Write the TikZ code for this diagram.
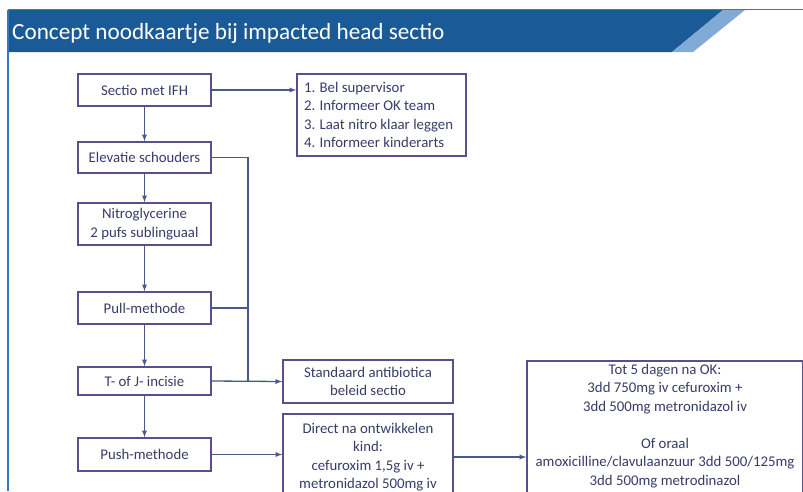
\documentclass[tikz,border=0pt]{standalone}
\usepackage{fontspec}
\setmainfont{Carlito}
\usepackage{tikz}
\usetikzlibrary{shapes,arrows}
\definecolor{BannerBlue}{RGB}{26,90,150}
\definecolor{StripeBlue}{RGB}{130,170,215}
\definecolor{EdgeBlue}{RGB}{50,120,190}
\definecolor{BoxLine}{RGB}{92,78,140}
\definecolor{ArrowLine}{RGB}{72,88,135}
\definecolor{BoxText}{RGB}{55,60,105}

\begin{document}
\begin{tikzpicture}[x=1pt,y=-1pt]
				\useasboundingbox (0,0) rectangle (803,491);
				\clip (0,0) rectangle (803,491);
				\tikzstyle{box}=[draw=BoxLine, line width=1.6pt, fill=white, text=BoxText, font=\fontsize{14.8}{18.5}\selectfont, align=flush center, inner sep=3pt];
				\tikzstyle{link}=[draw=ArrowLine, line width=1.3pt];
				% banner
				\fill[white] (0,0) rectangle (803,491);
				\fill[BannerBlue] (8,10) -- (723,10) -- (672,52) -- (8,52) -- cycle;
				\fill[StripeBlue] (723,10) -- (745,10) -- (693,52) -- (672,52) -- cycle;
				\draw[EdgeBlue, line width=1.2pt] (8,9.5) -- (803,9.5);
				\draw[EdgeBlue, line width=1.2pt] (8,9.5) -- (8,491);
				\node [anchor=west, text=white, font=\fontsize{23.2}{26}\selectfont, inner sep=0pt] (title) at (12,33) {Concept noodkaartje bij impacted head sectio};
				% left column
				\node [box, minimum width=133pt, minimum height=32pt] (sectio) at (144.5,90) {Sectio met IFH};
				\node [box, minimum width=133pt, minimum height=31pt] (elev) at (144.5,157.5) {Elevatie schouders};
				\node [box, minimum width=133pt, minimum height=42pt] (nitro) at (144.5,224) {Nitroglycerine\\2 pufs sublinguaal};
				\node [box, minimum width=133pt, minimum height=32pt] (pull) at (144.5,308) {Pull-methode};
				\node [box, minimum width=133pt, minimum height=28pt] (incisie) at (144.5,381) {T- of J- incisie};
				\node [box, minimum width=133pt, minimum height=33pt] (push) at (144.5,454.5) {Push-methode};
				% right column
				\node [box, align=flush left, minimum width=169pt, minimum height=82pt, text width=155pt] (list) at (381.5,115) {1. Bel supervisor\\2. Informeer OK team\\3. Laat nitro klaar leggen\\4. Informeer kinderarts};
				\node [box, minimum width=170pt, minimum height=43pt] (std) at (368,381.5) {Standaard antibiotica\\beleid sectio};
				\node [box, minimum width=170pt, minimum height=86pt, text width=164pt] (direct) at (368,457) {Direct na ontwikkelen\\kind:\\cefuroxim 1,5g iv +\\metronidazol 500mg iv};
				\node [box, anchor=north, minimum width=276pt, text width=270pt, inner sep=3pt] (tot) at (665,360) {Tot 5 dagen na OK:\\3dd 750mg iv cefuroxim +\\3dd 500mg metronidazol iv\\\mbox{}\\Of oraal\\amoxicilline/clavulaanzuur 3dd 500/125mg\\3dd 500mg metrodinazol\\\mbox{}\\\mbox{}};
				\coordinate (bus) at (248,0);
				% arrows
				\draw[link, -latex] (sectio) -- (elev);
				\draw[link, -latex] (elev) -- (nitro);
				\draw[link, -latex] (nitro) -- (pull);
				\draw[link, -latex] (pull) -- (incisie);
				\draw[link, -latex] (incisie) -- (push);
				\draw[link, -latex] (sectio.east) -- (sectio.east -| list.west);
				\draw[link] (elev.east) -| (bus |- incisie.east);
				\draw[link] (pull.east) -- (pull.east -| bus);
				\draw[link, -latex] (incisie.east) -- (std.west);
				\draw[link, -latex] (push.east) -- (push.east -| direct.west);
				\draw[link, -latex] (direct.east) -- (direct.east -| tot.west);
			\end{tikzpicture}
\end{document}
